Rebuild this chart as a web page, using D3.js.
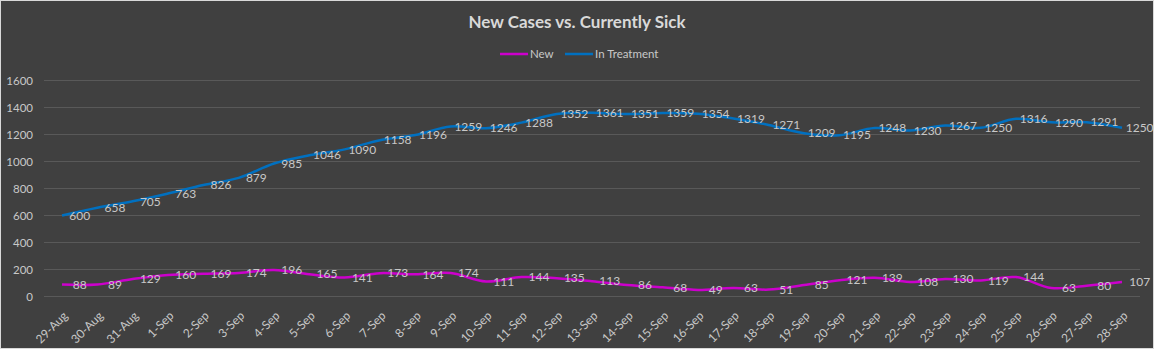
<!DOCTYPE html>
<html>
<head>
<meta charset="utf-8">
<script src="https://cdn.jsdelivr.net/npm/d3@7"></script>
<style>
  html, body { margin: 0; padding: 0; background: #404040; }
  #graph-container { width: 1154px; height: 349px; }
</style>
</head>
<body>
<div id="graph-container"></div>
<script>
const dates = ["29-Aug", "30-Aug", "31-Aug", "1-Sep", "2-Sep", "3-Sep", "4-Sep", "5-Sep", "6-Sep", "7-Sep",
  "8-Sep", "9-Sep", "10-Sep", "11-Sep", "12-Sep", "13-Sep", "14-Sep", "15-Sep", "16-Sep", "17-Sep",
  "18-Sep", "19-Sep", "20-Sep", "21-Sep", "22-Sep", "23-Sep", "24-Sep", "25-Sep", "26-Sep", "27-Sep", "28-Sep"]

const newCases = [88, 89, 129, 160, 169, 174, 196, 165, 141, 173,
  164, 174, 111, 144, 135, 113, 86, 68, 49, 63,
  51, 85, 121, 139, 108, 130, 119, 144, 63, 80, 107]

const inTreatment = [600, 658, 705, 763, 826, 879, 985, 1046, 1090, 1158,
  1196, 1259, 1246, 1288, 1352, 1361, 1351, 1359, 1354, 1319,
  1271, 1209, 1195, 1248, 1230, 1267, 1250, 1316, 1290, 1291, 1250]

const yTicks = [0, 200, 400, 600, 800, 1000, 1200, 1400, 1600]

const series = [
  {name: "New", values: newCases, color: "#cc00cc"},
  {name: "In Treatment", values: inTreatment, color: "#0070c0"}
]

const W = 1154, H = 349
const margin = ({top: 80, right: 14, bottom: 53, left: 44})
const font = "Lato, 'Open Sans', sans-serif"
const textColor = "#c8c8c8"

const svg = d3.create("svg")
    .attr("width", W)
    .attr("height", H)
    .attr("viewBox", [0, 0, W, H])
    .style("font-family", font)

d3.select('#graph-container').append(() => svg.node())

svg.append("rect")
    .attr("x", 0.5).attr("y", 0.5)
    .attr("width", W - 1).attr("height", H - 1)
    .attr("fill", "#404040")
    .attr("stroke", "#d9d9d9")

const x = d3.scalePoint()
    .domain(dates)
    .range([62, 1122])

const y = d3.scaleLinear()
    .domain([0, 1600])
    .range([296.5, 80.5])

// gridlines
svg.append("g")
  .selectAll("line")
  .data(yTicks)
  .join("line")
    .attr("x1", margin.left)
    .attr("x2", W - margin.right)
    .attr("y1", d => y(d))
    .attr("y2", d => y(d))
    .attr("stroke", "#595959")
    .attr("stroke-width", 1)

// y axis
const yAxis = svg.append("g")
    .attr("transform", `translate(${margin.left},0)`)
    .call(d3.axisLeft(y).tickValues(yTicks).tickFormat(d3.format("d")).tickSize(0).tickPadding(11))
yAxis.select(".domain").remove()
yAxis.selectAll("text")
    .attr("fill", textColor)
    .attr("font-size", "11.5px")
    .attr("font-family", font)

// x axis
const xAxis = svg.append("g")
    .attr("transform", `translate(0,${y(0)})`)
    .call(d3.axisBottom(x).tickSize(0))
xAxis.select(".domain").remove()
xAxis.selectAll("text")
    .attr("fill", textColor)
    .attr("font-size", "12px")
    .attr("font-family", font)
    .style("text-anchor", "end")
    .attr("dy", 0)
    .attr("y", 0)
    .attr("transform", "translate(6,20) rotate(-45)")

const line = d3.line()
    .x((d, i) => x(dates[i]))
    .y(d => y(d))
    .curve(d3.curveCardinal.tension(0))

svg.append("g")
  .selectAll("path")
  .data(series)
  .join("path")
    .attr("d", d => line(d.values))
    .attr("fill", "none")
    .attr("stroke", d => d.color)
    .attr("stroke-width", 2.5)
    .attr("stroke-linejoin", "round")

// data labels, shifted half a step right of each point
const step = x.step()
series.forEach(s => {
  svg.append("g")
    .selectAll("text")
    .data(s.values)
    .join("text")
      .attr("x", (d, i) => x(dates[i]) + step / 2)
      .attr("y", d => y(d))
      .attr("dy", "0.35em")
      .attr("text-anchor", "middle")
      .attr("font-size", "12px")
      .attr("fill", textColor)
      .text(d => d)
})

// title
svg.append("text")
    .attr("x", 577)
    .attr("y", 28)
    .attr("text-anchor", "middle")
    .attr("font-size", "17px")
    .attr("font-weight", "bold")
    .attr("fill", "#d9d9d9")
    .text("New Cases vs. Currently Sick")

// legend
const legendItems = [
  {name: "New", color: "#cc00cc", x: 500},
  {name: "In Treatment", color: "#0070c0", x: 565}
]
const legend = svg.append("g")
  .selectAll("g")
  .data(legendItems)
  .join("g")
    .attr("transform", d => `translate(${d.x},54)`)
legend.append("line")
    .attr("x1", 0).attr("x2", 28)
    .attr("stroke", d => d.color)
    .attr("stroke-width", 2.5)
legend.append("text")
    .attr("x", 30)
    .attr("dy", "0.35em")
    .attr("font-size", "11.5px")
    .attr("fill", textColor)
    .text(d => d.name)
</script>
</body>
</html>
